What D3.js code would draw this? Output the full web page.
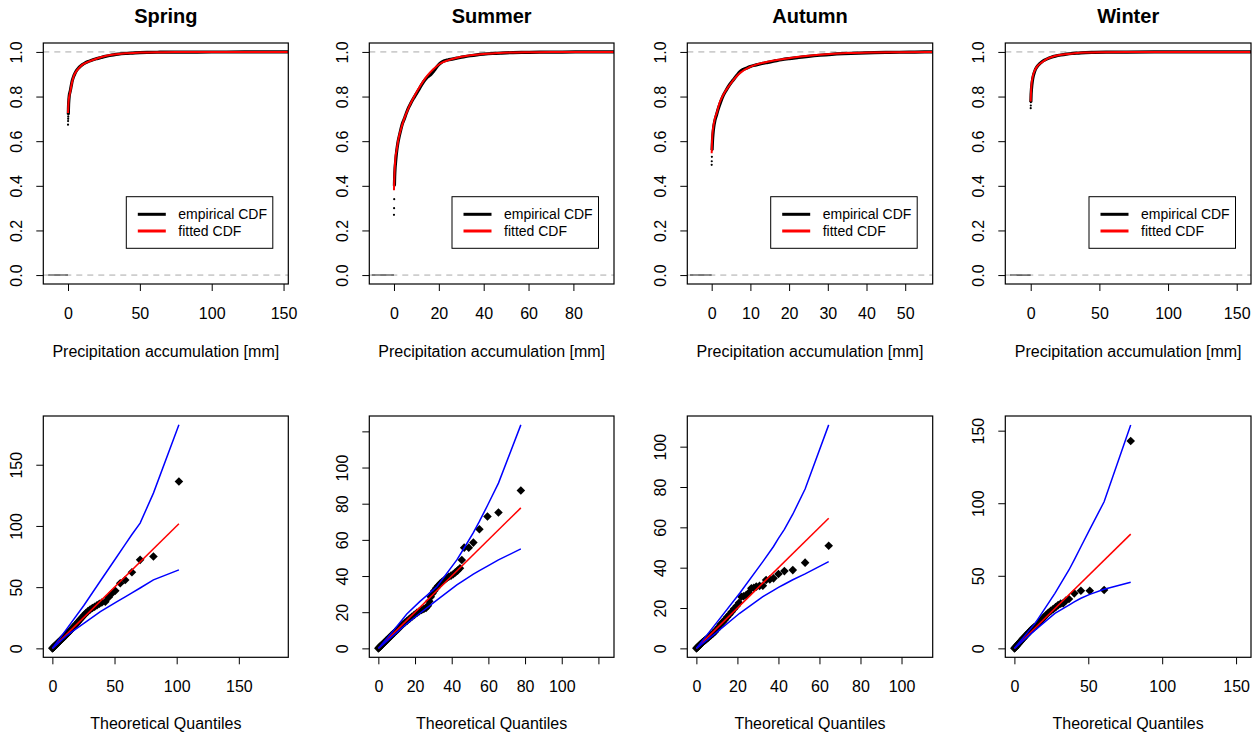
<!DOCTYPE html>
<html><head><meta charset="utf-8">
<script src="https://cdn.jsdelivr.net/npm/d3@7"></script>
<style>body{margin:0;background:#fff} svg{display:block} text{font-family:"Liberation Sans",Arial,sans-serif}</style>
</head><body><svg id="c" width="1258" height="734"></svg>
<script>
// ---------------- DATA ----------------
const seasons = ["Spring", "Summer", "Autumn", "Winter"];

// x-axis limits and ticks of the CDF panels
const cdfXLim = [[-17.2, 153.3], [-11.0, 98.1], [-6.3, 57.1], [-18.5, 160.4]];
const cdfXTicks = [[0, 50, 100, 150], [0, 20, 40, 60, 80], [0, 10, 20, 30, 40, 50], [0, 50, 100, 150]];
const cdfYTicks = [0, 0.2, 0.4, 0.6, 0.8, 1.0];
const ecdfLeftStart = [-13.7, -9.9, -5.6, -15];

// fitted CDF
const springFitX = [0, 0.2, 0.5, 1, 1.6, 2.5, 3.9, 6, 8.6, 12, 17.8, 24, 31.7, 40, 50, 62, 75, 100, 153];
const springFitF = [0.726, 0.76, 0.785, 0.805, 0.823, 0.855, 0.89, 0.915, 0.935, 0.95, 0.965, 0.978, 0.988, 0.994, 0.997, 0.999, 1.0, 1.0, 1.0];
const summerFitX = [0, 0.1, 0.3, 0.6, 1.2, 2, 3, 4.2, 5.5, 7.1, 9, 11.6, 14.6, 17.5, 20.5, 24, 29.4, 34, 39.8, 45, 51.7, 60, 70, 80, 98];
const summerFitF = [0.38, 0.42, 0.47, 0.52, 0.56, 0.61, 0.65, 0.69, 0.725, 0.763, 0.80, 0.846, 0.89, 0.922, 0.947, 0.962, 0.977, 0.985, 0.991, 0.994, 0.997, 0.9985, 0.9995, 1.0, 1.0];
const autumnFitX = [0, 0.05, 0.15, 0.3, 0.43, 0.8, 1.3, 2, 3, 4.7, 6, 7.3, 9.9, 12, 15, 20.2, 25, 30.5, 35, 40.9, 47, 57];
const autumnFitF = [0.546, 0.58, 0.62, 0.65, 0.666, 0.70, 0.726, 0.77, 0.808, 0.853, 0.883, 0.905, 0.933, 0.946, 0.958, 0.973, 0.983, 0.991, 0.995, 0.997, 0.999, 1.0];
const winterFitX = [0, 0.1, 0.3, 0.7, 1.5, 3.2, 5, 8, 11, 15.3, 20, 25, 32, 39.6, 50, 70, 100, 160];
const winterFitF = [0.778, 0.80, 0.83, 0.861, 0.89, 0.92, 0.937, 0.953, 0.966, 0.977, 0.985, 0.99, 0.994, 0.997, 0.999, 1.0, 1.0, 1.0];

// empirical CDF
const springEcdfX = [0, 0.05, 0.1, 0.15, 0.2, 0.3, 0.4, 0.6, 0.8, 1.0, 1.3, 1.6, 2, 2.5, 3, 3.9, 4.8, 6, 7.2, 8.6, 10, 12, 14, 16, 17.8, 20, 23, 26, 29, 31.7, 35, 40, 45, 50, 56, 62, 68, 75, 90, 110, 136, 147];
const springEcdfF = [0.674, 0.69, 0.70, 0.71, 0.72, 0.745, 0.765, 0.785, 0.80, 0.81, 0.818, 0.826, 0.84, 0.857, 0.872, 0.89, 0.903, 0.917, 0.927, 0.936, 0.943, 0.951, 0.957, 0.962, 0.966, 0.970, 0.975, 0.980, 0.984, 0.987, 0.990, 0.993, 0.995, 0.997, 0.998, 0.9985, 0.999, 0.9993, 0.9995, 0.9997, 0.9999, 1.0];
const summerEcdfX = [0, 0.05, 0.1, 0.2, 0.3, 0.5, 0.8, 1.2, 1.7, 2.3, 3, 3.8, 4.6, 5.5, 6.5, 7.5, 8.6, 9.8, 11, 12.3, 13.6, 15, 16.5, 18, 19.5, 21, 22.5, 24, 26, 28, 31, 34, 37, 40, 44, 48, 53, 58, 65, 75, 88];
const summerEcdfF = [0.27, 0.30, 0.34, 0.40, 0.44, 0.48, 0.515, 0.555, 0.59, 0.62, 0.65, 0.68, 0.70, 0.725, 0.75, 0.77, 0.79, 0.81, 0.83, 0.852, 0.872, 0.888, 0.90, 0.918, 0.938, 0.952, 0.960, 0.964, 0.968, 0.972, 0.978, 0.983, 0.987, 0.990, 0.993, 0.995, 0.997, 0.998, 0.999, 0.9995, 1.0];
const autumnEcdfX = [0, 0.02, 0.05, 0.1, 0.2, 0.35, 0.5, 0.8, 1.2, 1.7, 2.3, 3, 3.8, 4.7, 5.6, 6.5, 7.3, 8.2, 9.1, 10, 11.5, 13, 14.5, 16, 18, 20, 22.5, 25, 28, 31, 34, 38, 42, 46, 51, 55];
const autumnEcdfF = [0.494, 0.51, 0.53, 0.56, 0.60, 0.635, 0.66, 0.69, 0.715, 0.745, 0.775, 0.805, 0.83, 0.855, 0.875, 0.895, 0.912, 0.922, 0.928, 0.935, 0.942, 0.948, 0.953, 0.958, 0.965, 0.970, 0.975, 0.980, 0.985, 0.989, 0.992, 0.995, 0.997, 0.998, 0.999, 1.0];
const winterEcdfX = [0, 0.05, 0.1, 0.2, 0.3, 0.5, 0.8, 1.2, 1.8, 2.5, 3.2, 4, 5, 6.5, 8, 10, 12, 15, 18, 22, 26, 30, 35, 40, 46, 55, 70, 90, 143];
const winterEcdfF = [0.748, 0.76, 0.775, 0.79, 0.81, 0.83, 0.85, 0.87, 0.89, 0.905, 0.918, 0.928, 0.937, 0.947, 0.955, 0.963, 0.969, 0.976, 0.981, 0.986, 0.99, 0.993, 0.995, 0.997, 0.998, 0.999, 0.9995, 0.9998, 1.0];
// number of lowest ecdf steps shown only as dots
const ecdfDotOnly = [4, 3, 3, 2];

// QQ plots
const qqLim = [[-7.3, 189.8], [-4.94, 128.5], [-4.43, 115.2], [-6.16, 160.1]];
const qqTicks = [[0, 50, 100, 150], [0, 20, 40, 60, 80, 100, 120], [0, 20, 40, 60, 80, 100], [0, 50, 100, 150]];
const qqUnlabelled = [[], [120], [], []];

const springTheo = [0, 0.3, 0.6, 1, 1.4, 1.8, 2.3, 2.8, 3.4, 4, 4.7, 5.4, 6.2, 7, 7.9, 8.8, 9.8, 10.8, 11.9, 13, 14.2, 15.4, 16.7, 18, 19.4, 20.8, 22.3, 23.8, 25.4, 27, 28.7, 30.4, 32.2, 34, 35.9, 37.8, 39.8, 42.6, 45.3, 48, 50.6, 54.6, 58.6, 64, 70.6, 81.3, 101.8];
const springEmp = [0, 0.3, 0.6, 1, 1.4, 1.8, 2.3, 2.8, 3.4, 4, 4.7, 5.4, 6.2, 7, 7.9, 8.8, 9.8, 10.8, 11.9, 13, 14.4, 15.7, 17.1, 18.6, 20.2, 21.8, 23.5, 25.3, 27.1, 28.8, 30.4, 31.8, 33.0, 34.0, 35.2, 36.4, 37.5, 38.1, 41.7, 45, 47.1, 53.2, 55.9, 62.2, 72.3, 75, 136.3];
const summerTheo = [0, 0.4, 0.8, 1.3, 1.8, 2.4, 3, 3.7, 4.4, 5.2, 6, 6.9, 7.8, 8.8, 9.8, 10.9, 12, 13.2, 14.4, 15.7, 17, 18.3, 19.6, 21, 22.3, 23.6, 24.8, 26, 27, 27.8, 28.6, 29.5, 30.5, 31.5, 32.6, 33.7, 34.8, 36, 37.2, 38.4, 39.6, 40.8, 42, 43.2, 44.5, 45.5, 46.8, 49.3, 51.8, 55.1, 59.5, 65.5, 77.7];
const summerEmp = [0, 0.4, 0.8, 1.3, 1.8, 2.4, 3, 3.7, 4.4, 5.2, 6, 6.9, 7.8, 8.8, 9.8, 10.9, 12, 13.2, 14.2, 15.3, 16.4, 17.5, 18.5, 19.6, 20.5, 21.2, 21.8, 22.4, 23.5, 26, 28.5, 30.4, 31.8, 33.3, 34.6, 35.8, 36.8, 37.8, 38.8, 39.6, 40.2, 41, 42, 43, 44.3, 48.9, 55.7, 55.7, 58.5, 65.9, 72.9, 75.1, 87.3];
const autumnTheo = [0, 0.3, 0.6, 1, 1.4, 1.9, 2.4, 3, 3.6, 4.2, 4.9, 5.6, 6.4, 7.2, 8, 8.9, 9.8, 10.8, 11.8, 12.8, 13.9, 15, 16.1, 17.2, 18.4, 19.6, 20.8, 21.9, 23, 24.3, 25.5, 26.8, 28, 29.2, 30.8, 32.4, 34, 35.8, 37.6, 40, 42.9, 47, 53, 64.5];
const autumnEmp = [0, 0.3, 0.6, 1, 1.4, 1.9, 2.4, 3, 3.5, 4.0, 4.6, 5.2, 5.9, 6.6, 7.3, 8.1, 9.2, 10.5, 11.9, 13, 14.2, 15.5, 16.8, 18.1, 19.6, 21, 22.6, 25.6, 25.8, 26.4, 27.5, 29.8, 30, 30.6, 31, 31.1, 33.9, 34.2, 34.7, 36.9, 38.3, 38.8, 42.5, 50.9];
const winterTheo = [0, 0.3, 0.6, 1, 1.5, 2, 2.6, 3.2, 3.9, 4.6, 5.4, 6.2, 7.1, 8, 9, 10, 11.1, 12.2, 13.4, 14.6, 15.9, 17.2, 18.6, 20, 21.5, 23, 24.6, 26.2, 27.9, 29.6, 31.3, 33, 34.9, 36.9, 40.5, 45, 51, 60.7, 78.7];
const winterEmp = [0, 0.3, 0.6, 1.1, 1.7, 2.3, 3, 3.7, 4.5, 5.3, 6.2, 7.1, 8.1, 9.1, 10.2, 11.3, 12.5, 13.6, 14.6, 15.5, 16.8, 18.2, 19.8, 21.5, 23, 24.5, 25.8, 27, 28.4, 29.8, 30.8, 31, 33, 34, 37.9, 39.7, 39.7, 40.2, 142.9];

// confidence envelope (blue)
const springEnvX = [0, 12, 25.3, 38.6, 52, 58.6, 64, 70.6, 81.3, 101.8];
const springUpper = [0, 16.5, 35, 55, 75, 85, 93, 102.3, 126.8, 182.7];
const springLower = [0, 10.9, 20.5, 30, 38.1, 42, 45.3, 49.3, 55.9, 64.1];
const summerEnvX = [0, 8.2, 15.5, 22.7, 31.9, 42.8, 46.8, 51.8, 55.1, 59.5, 65.5, 77.7];
const summerUpper = [0, 9.8, 19.0, 26.0, 34.1, 48.9, 55.5, 64.0, 70.2, 79.0, 91.4, 123.6];
const summerLower = [0, 7.2, 13.6, 19.4, 26.7, 35.1, 37.8, 41.0, 43.0, 45.5, 48.9, 55.0];
const autumnEnvX = [0, 9.7, 21.1, 32.4, 37.6, 40, 42.9, 47, 53, 64.5];
const autumnUpper = [0, 12.5, 27.3, 43.0, 50.5, 54.5, 59.0, 66.5, 79.0, 110.8];
const autumnLower = [0, 7.8, 17.4, 25.6, 28.8, 30.2, 31.8, 34.0, 36.9, 43.0];
const winterEnvX = [0, 14.0, 27.4, 36.9, 40.5, 45, 51, 60.7, 78.7];
const winterUpper = [0, 17.2, 37.9, 54.0, 60.9, 70.0, 82.0, 101.0, 153.9];
const winterLower = [0, 12.6, 24.1, 29.8, 32.0, 34.5, 37.2, 40.7, 45.5];

const fitX = [springFitX, summerFitX, autumnFitX, winterFitX];
const fitF = [springFitF, summerFitF, autumnFitF, winterFitF];
const ecdfX = [springEcdfX, summerEcdfX, autumnEcdfX, winterEcdfX];
const ecdfF = [springEcdfF, summerEcdfF, autumnEcdfF, winterEcdfF];
const qqTheo = [springTheo, summerTheo, autumnTheo, winterTheo];
const qqEmp = [springEmp, summerEmp, autumnEmp, winterEmp];
const envX = [springEnvX, summerEnvX, autumnEnvX, winterEnvX];
const envUpper = [springUpper, summerUpper, autumnUpper, winterUpper];
const envLower = [springLower, summerLower, autumnLower, winterLower];

const legendLabels = ["empirical CDF", "fitted CDF"];
const legendColors = ["#000000", "#FF0000"];
const cdfXLabel = "Precipitation accumulation [mm]";
const qqXLabel = "Theoretical Quantiles";

// ---------------- LAYOUT ----------------
const svg = d3.select("#c");
const boxX = [[43.3, 288.3], [369.3, 614], [687.3, 932.7], [1005.3, 1251]];
const topBox = [43, 284];
const botBox = [416, 657.3];

function styleBottomAxis(g) {
  g.select(".domain").remove();
  g.attr("font-size", 16).attr("font-family", "Liberation Sans, Arial, sans-serif");
  g.selectAll(".tick line").attr("stroke", "#000");
  g.selectAll(".tick text").attr("y", 34.7).attr("dy", null).attr("fill", "#000");
}
function styleLeftAxis(g) {
  g.select(".domain").remove();
  g.attr("font-size", 16).attr("font-family", "Liberation Sans, Arial, sans-serif");
  g.selectAll(".tick line").attr("stroke", "#000");
  g.selectAll(".tick text").attr("x", null).attr("dy", null)
    .attr("transform", "translate(-21.5,0) rotate(-90)")
    .attr("text-anchor", "middle").attr("fill", "#000");
}

seasons.forEach((name, i) => {
  const [x0, x1] = boxX[i];
  const cx = (x0 + x1) / 2;

  // title
  svg.append("text").attr("x", cx).attr("y", 23).attr("text-anchor", "middle")
    .attr("font-size", 20).attr("font-weight", "bold").text(name);

  // ===== CDF panel =====
  const x = d3.scaleLinear().domain(cdfXLim[i]).range([x0, x1]);
  const y = d3.scaleLinear().domain([-0.04, 1.04]).range([topBox[1], topBox[0]]);
  const clipId = "clipT" + i;
  svg.append("clipPath").attr("id", clipId).append("rect")
    .attr("x", x0).attr("y", topBox[0]).attr("width", x1 - x0).attr("height", topBox[1] - topBox[0]);
  const p = svg.append("g").attr("clip-path", `url(#${clipId})`);

  [0, 1].forEach(h => {
    p.append("line").attr("x1", x0).attr("x2", x1).attr("y1", y(h)).attr("y2", y(h))
      .attr("stroke", "#A8A8A8").attr("stroke-width", 1).attr("stroke-dasharray", "6,5");
  });

  // left part of ecdf (F=0)
  p.append("path").attr("d", d3.line()([[x(ecdfLeftStart[i]), y(0)], [x(0), y(0)]]))
    .attr("stroke", "#222").attr("stroke-width", 1.1).attr("fill", "none");

  const ePts = ecdfX[i].map((v, k) => [v, ecdfF[i][k]]);
  const ePath = ePts.slice(ecdfDotOnly[i]).concat([[cdfXLim[i][1], 1]]);
  p.append("path").datum(ePath)
    .attr("d", d3.line().x(d => x(d[0])).y(d => y(d[1])).curve(d3.curveMonotoneX))
    .attr("stroke", "#000").attr("stroke-width", 3.2).attr("fill", "none");
  p.selectAll(".edot").data(ePts.slice(0, ecdfDotOnly[i] + 1)).enter().append("circle")
    .attr("cx", d => x(d[0])).attr("cy", d => y(d[1])).attr("r", 1.1).attr("fill", "#000");

  const fPts = fitX[i].map((v, k) => [v, fitF[i][k]]);
  p.append("path").datum(fPts)
    .attr("d", d3.line().x(d => x(d[0])).y(d => y(d[1])).curve(d3.curveMonotoneX))
    .attr("stroke", "#FF0000").attr("stroke-width", 2).attr("fill", "none");

  svg.append("rect").attr("x", x0).attr("y", topBox[0]).attr("width", x1 - x0).attr("height", topBox[1] - topBox[0])
    .attr("fill", "none").attr("stroke", "#000").attr("stroke-width", 1.2);

  svg.append("g").attr("transform", `translate(0,${topBox[1]})`)
    .call(d3.axisBottom(x).tickValues(cdfXTicks[i]).tickSize(7).tickSizeOuter(0).tickFormat(d3.format("d")))
    .call(styleBottomAxis);
  svg.append("g").attr("transform", `translate(${x0},0)`)
    .call(d3.axisLeft(y).tickValues(cdfYTicks).tickSize(7).tickSizeOuter(0).tickFormat(d3.format(".1f")))
    .call(styleLeftAxis);

  svg.append("text").attr("x", cx).attr("y", topBox[1] + 72.5).attr("text-anchor", "middle")
    .attr("font-size", 16).text(cdfXLabel);

  // legend
  const lx = x1 - 15.5 - 146.5, ly = 196.7;
  svg.append("rect").attr("x", lx).attr("y", ly).attr("width", 146.5).attr("height", 51.6)
    .attr("fill", "#fff").attr("stroke", "#000").attr("stroke-width", 1);
  legendLabels.forEach((lab, k) => {
    const yy = ly + 17.6 + k * 16.7;
    svg.append("line").attr("x1", lx + 11.5).attr("x2", lx + 39.5).attr("y1", yy).attr("y2", yy)
      .attr("stroke", legendColors[k]).attr("stroke-width", 3);
    svg.append("text").attr("x", lx + 52).attr("y", yy + 5).attr("font-size", 14).text(lab);
  });

  // ===== QQ panel =====
  const qx = d3.scaleLinear().domain(qqLim[i]).range([x0, x1]);
  const qy = d3.scaleLinear().domain(qqLim[i]).range([botBox[1], botBox[0]]);
  const clipQ = "clipB" + i;
  svg.append("clipPath").attr("id", clipQ).append("rect")
    .attr("x", x0).attr("y", botBox[0]).attr("width", x1 - x0).attr("height", botBox[1] - botBox[0]);
  const q = svg.append("g").attr("clip-path", `url(#${clipQ})`);

  const qPts = qqTheo[i].map((v, k) => [v, qqEmp[i][k]]);
  q.selectAll(".pt").data(qPts).enter().append("path")
    .attr("transform", d => `translate(${qx(d[0])},${qy(d[1])})`)
    .attr("d", "M0,-4.3L4.3,0L0,4.3L-4.3,0Z").attr("fill", "#000");

  const tMax = d3.max(qqTheo[i]);
  q.append("path").attr("d", d3.line()([[qx(0), qy(0)], [qx(tMax), qy(tMax)]]))
    .attr("stroke", "#FF0000").attr("stroke-width", 1.5).attr("fill", "none");

  [envUpper[i], envLower[i]].forEach(arr => {
    const pts = envX[i].map((v, k) => [v, arr[k]]);
    q.append("path").datum(pts)
      .attr("d", d3.line().x(d => qx(d[0])).y(d => qy(d[1])))
      .attr("stroke", "#0000FF").attr("stroke-width", 1.5).attr("fill", "none");
  });

  svg.append("rect").attr("x", x0).attr("y", botBox[0]).attr("width", x1 - x0).attr("height", botBox[1] - botBox[0])
    .attr("fill", "none").attr("stroke", "#000").attr("stroke-width", 1.2);

  const fmt = d => qqUnlabelled[i].includes(d) ? "" : String(d);
  svg.append("g").attr("transform", `translate(0,${botBox[1]})`)
    .call(d3.axisBottom(qx).tickValues(qqTicks[i]).tickSize(7).tickSizeOuter(0).tickFormat(fmt))
    .call(styleBottomAxis);
  svg.append("g").attr("transform", `translate(${x0},0)`)
    .call(d3.axisLeft(qy).tickValues(qqTicks[i]).tickSize(7).tickSizeOuter(0).tickFormat(fmt))
    .call(styleLeftAxis);

  svg.append("text").attr("x", cx).attr("y", botBox[1] + 71.5).attr("text-anchor", "middle")
    .attr("font-size", 16).text(qqXLabel);
});
</script></body></html>
